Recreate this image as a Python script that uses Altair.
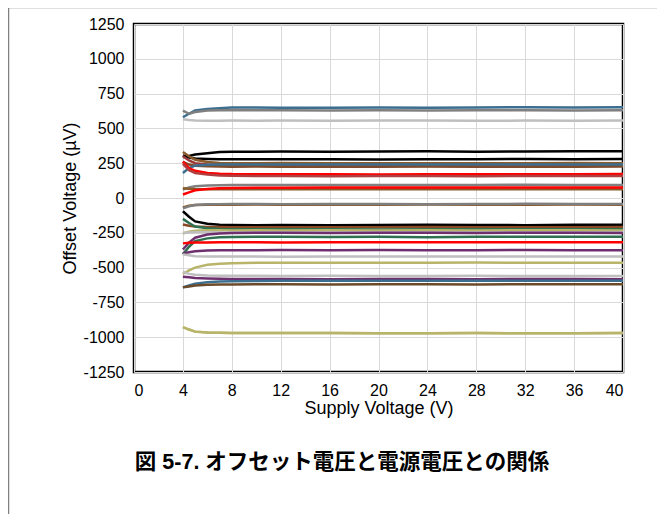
import altair as alt
import pandas as pd

# Supply voltage sample points (V)
supply_v = [4, 4.5, 5, 6, 7, 8, 10, 12, 16, 20, 24, 28, 32, 36, 40]

series_names = [f"s{i:02d}" for i in range(1, 34)]
series_colors = [
    "#3b6e8f", "#7f7f7f", "#bfbfbf", "#000000", "#000000", "#8b5a2b", "#9b3a3a",
    "#7f4b2a", "#3b6e8f", "#ff0000", "#b04040", "#808080", "#8b5a2b", "#ff0000",
    "#8b5a2b", "#7f7f7f", "#000000", "#8b4a25", "#2e7050", "#b8b46a", "#bfbfbf",
    "#2e7050", "#6e2f6e", "#ff0000", "#6e2f6e", "#bfbfbf", "#b8b46a", "#bfbfbf",
    "#6e2f6e", "#3b6e8f", "#6b4a2a", "#b8b46a", "#b8b46a",
]

s01 = [580, 605, 628, 640, 645, 650, 650, 648, 648, 650, 648, 650, 652, 650, 652]
s02 = [627, 605, 618, 628, 630, 632, 630, 630, 628, 630, 628, 630, 630, 628, 630]
s03 = [565, 560, 556, 555, 555, 556, 555, 556, 555, 556, 556, 555, 556, 555, 556]
s04 = [295, 302, 312, 322, 330, 333, 333, 334, 333, 334, 335, 333, 334, 336, 336]
s05 = [305, 290, 283, 280, 278, 278, 278, 279, 278, 277, 278, 279, 280, 279, 280]
s06 = [330, 300, 275, 258, 252, 250, 250, 251, 250, 250, 249, 250, 250, 251, 250]
s07 = [300, 270, 250, 240, 235, 232, 232, 230, 230, 231, 230, 230, 231, 230, 232]
s08 = [260, 240, 232, 228, 226, 225, 226, 225, 224, 225, 226, 225, 224, 225, 226]
s09 = [180, 215, 232, 238, 240, 240, 240, 241, 240, 240, 241, 240, 240, 241, 240]
s10 = [262, 215, 195, 180, 175, 172, 171, 170, 170, 169, 170, 171, 170, 170, 172]
s11 = [245, 200, 180, 168, 162, 160, 158, 158, 157, 158, 158, 157, 158, 158, 158]
s12 = [60, 75, 85, 90, 92, 93, 93, 94, 93, 94, 93, 94, 95, 94, 94]
s13 = [70, 66, 64, 63, 63, 62, 62, 63, 62, 62, 63, 62, 62, 63, 62]
s14 = [25, 40, 55, 65, 70, 72, 73, 74, 75, 75, 76, 75, 75, 76, 75]
s15 = [-68, -55, -50, -48, -48, -48, -47, -48, -48, -48, -47, -48, -48, -47, -48]
s16 = [-75, -60, -50, -45, -44, -43, -43, -44, -43, -43, -44, -43, -42, -43, -43]
s17 = [-95, -135, -168, -185, -192, -194, -195, -194, -195, -194, -193, -194, -195, -193, -192]
s18 = [-190, -200, -205, -208, -209, -210, -210, -211, -210, -210, -209, -210, -210, -210, -208]
s19 = [-150, -180, -205, -218, -222, -224, -225, -224, -225, -226, -225, -224, -225, -224, -225]
s20 = [-255, -242, -235, -232, -232, -233, -232, -233, -232, -233, -232, -233, -232, -232, -233]
s21 = [-250, -248, -246, -246, -246, -247, -246, -246, -247, -246, -246, -247, -246, -246, -246]
s22 = [-405, -350, -310, -290, -282, -280, -279, -278, -280, -279, -282, -278, -279, -278, -279]
s23 = [-370, -320, -285, -262, -255, -252, -250, -250, -251, -250, -250, -251, -250, -250, -251]
s24 = [-326, -322, -320, -319, -318, -318, -318, -319, -318, -318, -317, -318, -318, -318, -318]
s25 = [-398, -390, -383, -378, -376, -375, -375, -374, -375, -374, -375, -375, -374, -375, -375]
s26 = [-405, -412, -418, -420, -421, -421, -421, -422, -421, -421, -420, -421, -421, -421, -421]
s27 = [-546, -520, -500, -480, -472, -468, -466, -466, -465, -466, -465, -464, -465, -465, -465]
s28 = [-530, -545, -552, -556, -558, -558, -559, -560, -559, -560, -560, -559, -560, -560, -560]
s29 = [-565, -570, -575, -578, -580, -581, -582, -582, -583, -582, -582, -583, -582, -582, -583]
s30 = [-642, -628, -615, -605, -600, -598, -596, -595, -594, -595, -594, -594, -595, -594, -594]
s31 = [-642, -635, -628, -624, -622, -621, -620, -620, -621, -620, -620, -621, -620, -620, -620]
s32 = [-928, -945, -960, -966, -968, -970, -970, -969, -970, -972, -971, -970, -972, -971, -970]
s33 = [-928, -945, -960, -966, -968, -970, -970, -969, -970, -972, -971, -970, -972, -971, -970]

series_values = [s01, s02, s03, s04, s05, s06, s07, s08, s09, s10, s11, s12, s13, s14, s15,
                 s16, s17, s18, s19, s20, s21, s22, s23, s24, s25, s26, s27, s28, s29, s30,
                 s31, s32, s33]

x_ticks = list(range(0, 41, 4))
y_ticks = list(range(-1250, 1251, 250))
caption = "図 5-7. オフセット電圧と電源電圧との関係"

rows = []
for name, vals in zip(series_names, series_values):
    for xv, yv in zip(supply_v, vals):
        rows.append({"series": name, "v": xv, "offset": yv})
df = pd.DataFrame(rows)

W, H = 489, 348
FONT = "Liberation Sans, Arial, sans-serif"

lines = alt.Chart(df).mark_line(strokeWidth=2.5, clip=True).encode(
    x=alt.X("v:Q", scale=alt.Scale(domain=[0, 40], nice=False),
            axis=alt.Axis(values=x_ticks, title="Supply Voltage (V)",
                          labelExpr="datum.value + ''")),
    y=alt.Y("offset:Q", scale=alt.Scale(domain=[-1250, 1250], nice=False),
            axis=alt.Axis(values=y_ticks, title="Offset Voltage (µV)",
                          labelExpr="datum.value + ''")),
    color=alt.Color("series:N", scale=alt.Scale(domain=series_names, range=series_colors),
                    legend=None),
    order=alt.Order("v:Q"),
)

one = pd.DataFrame({"k": [0]})
border = alt.Chart(one).mark_rect(fill=None, stroke="#808080", strokeWidth=1.5).encode(
    x=alt.value(-125.5), x2=alt.value(700), y=alt.value(-16.5), y2=alt.value(700)
)
cap = alt.Chart(one).mark_text(
    text=caption, font="Liberation Sans, Noto Sans CJK JP, sans-serif", fontSize=21.5,
    fontWeight="bold", align="center", baseline="middle", color="black"
).encode(x=alt.value(208), y=alt.value(439))

chart = alt.layer(lines, border, cap).properties(
    width=W, height=H,
    autosize=alt.AutoSizeParams(type="none"),
    padding={"left": 126, "top": 16, "right": 34, "bottom": 142},
).configure_view(
    stroke="black", strokeWidth=2.5
).configure_axis(
    grid=True, gridColor="#d9d9d9", gridWidth=1, domain=False, ticks=False,
    labelFont=FONT, labelFontSize=16, labelColor="black",
    titleFont=FONT, titleFontSize=18, titleFontWeight="normal", titleColor="black",
).configure_axisX(
    labelPadding=10, titlePadding=1
).configure_axisY(
    labelPadding=10, titlePadding=4
)

chart.save("out.html", embed_options={"renderer": "svg", "actions": False})
